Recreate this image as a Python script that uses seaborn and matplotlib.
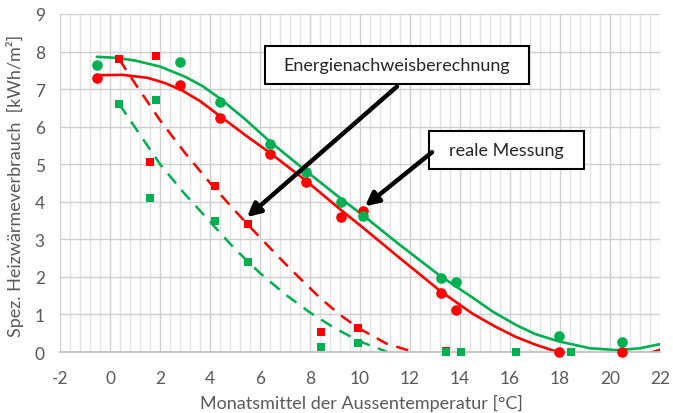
import numpy as np
import pandas as pd
import matplotlib
matplotlib.use("Agg")
import matplotlib.pyplot as plt
from matplotlib.patches import Rectangle
from matplotlib.ticker import MultipleLocator
import seaborn as sns

# --- colours (Excel style) ---
GREEN = "#00B050"
RED = "#FF0000"
GRID_MAJOR = "#cfcfcf"
GRID_MINOR = "#e2e2e2"
TEXT = "#595959"

# --- measured points (circles) ---
circ_x = [-0.53, 2.8, 4.4, 6.4, 7.85, 9.24, 10.1, 13.22, 13.84, 17.97, 20.47]
circ_green = [7.63, 7.73, 6.66, 5.53, 4.78, 4.0, 3.61, 1.97, 1.86, 0.42, 0.28]
circ_red = [7.3, 7.1, 6.22, 5.27, 4.52, 3.6, 3.76, 1.57, 1.12, 0.0, 0.0]

# --- calculated points (squares) ---
sq_x = [0.37, 1.83, 1.6, 4.2, 5.53, 8.43, 9.93, 13.44, 14.03, 16.24, 18.43]
sq_red = [7.81, 7.88, 5.05, 4.43, 3.4, 0.54, 0.65, 0.03, 0.0, 0.0, 0.0]
sq_green = [6.6, 6.71, 4.1, 3.49, 2.39, 0.14, 0.23, 0.0, 0.0, 0.0, 0.0]

# --- trend lines ---
trend_green_x = [-0.53, 0.3, 1.0, 2.0, 3.0, 3.7, 4.4, 5.4, 6.4, 7.84, 9.24, 10.1, 11.5,
                 13.2, 14.5, 15.3, 16.24, 17.0, 17.97, 19.2, 20.3, 21.2, 22.0]
trend_green_y = [7.86, 7.83, 7.76, 7.6, 7.33, 7.08, 6.75, 6.2, 5.6, 4.82, 4.08, 3.65, 2.9,
                 2.03, 1.45, 1.08, 0.72, 0.48, 0.28, 0.1, 0.05, 0.1, 0.21]
trend_red_x = [-0.53, 0.5, 1.5, 2.2, 2.9, 3.6, 4.4, 5.4, 6.4, 7.84, 9.24, 10.1, 11.5,
               13.2, 14.5, 15.4, 16.24, 17.0, 17.9, 19.0, 20.0, 21.0, 21.7, 22.0]
trend_red_y = [7.37, 7.38, 7.3, 7.16, 6.96, 6.68, 6.28, 5.78, 5.3, 4.56, 3.78, 3.32, 2.55,
               1.63, 1.02, 0.68, 0.4, 0.2, 0.0, -0.2, -0.25, -0.15, 0.0, 0.06]
dash_red_x = [0.37, 1.0, 2.0, 3.0, 4.0, 5.0, 5.53, 6.27, 7.2, 8.4, 9.2, 9.93, 11.07, 12.15]
dash_red_y = [7.79, 7.15, 6.17, 5.3, 4.5, 3.76, 3.38, 2.86, 2.22, 1.44, 0.99, 0.64, 0.22, 0.0]
dash_green_x = [0.37, 1.0, 2.0, 3.0, 4.0, 5.0, 6.0, 7.0, 8.0, 9.0, 10.0, 11.1]
dash_green_y = [6.6, 5.98, 5.0, 4.2, 3.47, 2.74, 2.1, 1.54, 1.05, 0.63, 0.28, 0.0]

sns.set_theme(style="white")
plt.rcParams['font.family'] = ['Lato', 'DejaVu Sans']
plt.rcParams['axes.unicode_minus'] = False

fig, ax = plt.subplots(figsize=(6.73, 4.14), dpi=100)
fig.subplots_adjust(left=0.0892, right=0.9807, top=0.9638, bottom=0.1473)

# trend lines
sns.lineplot(x=trend_red_x, y=trend_red_y, ax=ax, color=RED, lw=1.9, sort=False, estimator=None, zorder=2)
sns.lineplot(x=trend_green_x, y=trend_green_y, ax=ax, color=GREEN, lw=1.9, sort=False, estimator=None, zorder=2)
sns.lineplot(x=dash_red_x, y=dash_red_y, ax=ax, color=RED, lw=1.8, sort=False, estimator=None,
             linestyle=(0, (5, 3.5)), zorder=2)
sns.lineplot(x=dash_green_x, y=dash_green_y, ax=ax, color=GREEN, lw=1.8, sort=False, estimator=None,
             linestyle=(0, (5, 3.5)), zorder=2)

# points
sns.scatterplot(x=sq_x, y=sq_red, ax=ax, color=RED, marker="s", s=36, linewidth=0, zorder=3, clip_on=False)
sns.scatterplot(x=circ_x, y=circ_red, ax=ax, color=RED, marker="o", s=58, linewidth=0, zorder=3, clip_on=False)
sns.scatterplot(x=sq_x, y=sq_green, ax=ax, color=GREEN, marker="s", s=36, linewidth=0, zorder=4, clip_on=False)
sns.scatterplot(x=circ_x, y=circ_green, ax=ax, color=GREEN, marker="o", s=58, linewidth=0, zorder=4, clip_on=False)

# axes
ax.set_xlim(-2, 22)
ax.set_ylim(0, 9)
ax.xaxis.set_major_locator(MultipleLocator(2))
ax.xaxis.set_minor_locator(MultipleLocator(0.4))
ax.yaxis.set_major_locator(MultipleLocator(1))
ax.set_axisbelow(True)
ax.grid(which="major", axis="both", color=GRID_MAJOR, lw=1.0)
ax.grid(which="minor", axis="x", color=GRID_MINOR, lw=1.0)
for side in ["left", "top", "right"]:
    ax.spines[side].set_visible(False)
ax.spines["bottom"].set_color("#bfbfbf")
ax.spines["bottom"].set_linewidth(1.2)
ax.tick_params(axis="both", which="both", length=0, labelsize=12.5, colors=TEXT)
ax.tick_params(axis="x", pad=13)
ax.tick_params(axis="y", pad=11)

ax.set_xlabel("Monatsmittel der Aussentemperatur [°C]", fontsize=13, color=TEXT)
ax.set_ylabel("Spez. Heizwärmeverbrauch  [kWh/m²]", fontsize=13, color=TEXT)
ax.xaxis.label.set_va("center")
ax.yaxis.label.set_va("center")
ax.xaxis.set_label_coords(0.502, -0.148)
ax.yaxis.set_label_coords(-0.075, 0.494)

# annotation boxes and arrows
ax.add_patch(Rectangle((6.2, 7.13), 10.56, 1.03, facecolor="white", edgecolor="black", lw=1.5, zorder=6))
ax.text(11.48, 7.65, "Energienachweisberechnung", ha="center", va="center", fontsize=13,
        color="#262626", zorder=7)
ax.add_patch(Rectangle((12.76, 4.87), 6.2, 1.01, facecolor="white", edgecolor="black", lw=1.5, zorder=6))
ax.text(15.86, 5.37, "reale Messung", ha="center", va="center", fontsize=13, color="#262626", zorder=7)

arrow = dict(arrowstyle="-|>", color="black", lw=3.2, mutation_scale=20, shrinkA=0, shrinkB=0)
ax.annotate("", xy=(5.48, 3.59), xytext=(11.48, 7.07), arrowprops=arrow, zorder=8)
ax.annotate("", xy=(10.2, 3.88), xytext=(12.88, 5.32), arrowprops=arrow, zorder=8)

plt.savefig("out.png", dpi=100)
